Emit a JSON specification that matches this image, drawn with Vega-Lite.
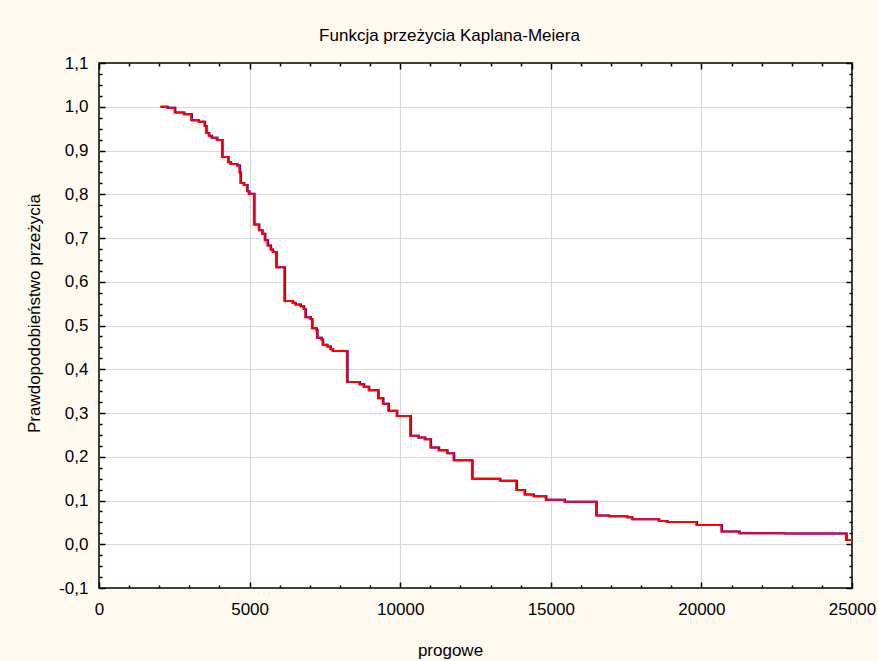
{
  "$schema": "https://vega.github.io/schema/vega-lite/v6.json",
  "autosize": {"type": "none"},
  "width": 753,
  "height": 525,
  "padding": {"left": 99, "top": 63, "right": 26, "bottom": 73},
  "background": "#FFFAF0",
  "config": {
    "font": "Liberation Sans",
    "view": {"fill": "white", "stroke": "black", "strokeWidth": 1.5},
    "axis": {"labelFont": "Liberation Sans", "titleFont": "Liberation Sans", "labelColor": "black", "titleColor": "black", "labelFontSize": 17, "titleFontSize": 17, "titleFontWeight": "normal", "domain": false, "tickColor": "black", "gridColor": "#D9D9D9", "gridWidth": 1.2}
  },
  "title": {"text": "Funkcja przeżycia Kaplana-Meiera", "font": "Liberation Sans", "fontSize": 17, "fontWeight": "normal", "color": "black", "anchor": "middle", "frame": "group", "dx": -26, "offset": -4, "baseline": "alphabetic"},
  "data": {"values": [
    {"t": 2030, "p": 1.0},
    {"t": 2260, "p": 0.998},
    {"t": 2510, "p": 0.987},
    {"t": 2810, "p": 0.983},
    {"t": 3060, "p": 0.969},
    {"t": 3300, "p": 0.966},
    {"t": 3500, "p": 0.956},
    {"t": 3550, "p": 0.94},
    {"t": 3640, "p": 0.934},
    {"t": 3730, "p": 0.929},
    {"t": 3910, "p": 0.924},
    {"t": 4080, "p": 0.885},
    {"t": 4280, "p": 0.873},
    {"t": 4360, "p": 0.869},
    {"t": 4580, "p": 0.866},
    {"t": 4660, "p": 0.85},
    {"t": 4690, "p": 0.826},
    {"t": 4800, "p": 0.821},
    {"t": 4910, "p": 0.807},
    {"t": 4970, "p": 0.801},
    {"t": 5140, "p": 0.731},
    {"t": 5300, "p": 0.718},
    {"t": 5410, "p": 0.71},
    {"t": 5500, "p": 0.695},
    {"t": 5590, "p": 0.683},
    {"t": 5690, "p": 0.674},
    {"t": 5760, "p": 0.668},
    {"t": 5875, "p": 0.633},
    {"t": 6150, "p": 0.556},
    {"t": 6420, "p": 0.552},
    {"t": 6510, "p": 0.548},
    {"t": 6680, "p": 0.544},
    {"t": 6790, "p": 0.538},
    {"t": 6845, "p": 0.519},
    {"t": 7010, "p": 0.515},
    {"t": 7066, "p": 0.494},
    {"t": 7210, "p": 0.49},
    {"t": 7233, "p": 0.472},
    {"t": 7376, "p": 0.468},
    {"t": 7420, "p": 0.456},
    {"t": 7565, "p": 0.452},
    {"t": 7675, "p": 0.446},
    {"t": 7753, "p": 0.442},
    {"t": 8230, "p": 0.371},
    {"t": 8640, "p": 0.366},
    {"t": 8780, "p": 0.36},
    {"t": 8950, "p": 0.352},
    {"t": 9260, "p": 0.334},
    {"t": 9420, "p": 0.321},
    {"t": 9600, "p": 0.305},
    {"t": 9880, "p": 0.293},
    {"t": 10330, "p": 0.248},
    {"t": 10590, "p": 0.244},
    {"t": 10810, "p": 0.24},
    {"t": 11000, "p": 0.221},
    {"t": 11270, "p": 0.215},
    {"t": 11550, "p": 0.208},
    {"t": 11770, "p": 0.192},
    {"t": 12380, "p": 0.15},
    {"t": 13300, "p": 0.145},
    {"t": 13850, "p": 0.124},
    {"t": 14125, "p": 0.114},
    {"t": 14420, "p": 0.11},
    {"t": 14830, "p": 0.102},
    {"t": 15450, "p": 0.097},
    {"t": 16500, "p": 0.066},
    {"t": 16920, "p": 0.064},
    {"t": 17520, "p": 0.062},
    {"t": 17690, "p": 0.057},
    {"t": 18580, "p": 0.053},
    {"t": 18850, "p": 0.051},
    {"t": 19830, "p": 0.044},
    {"t": 20660, "p": 0.029},
    {"t": 21250, "p": 0.025},
    {"t": 22750, "p": 0.0245},
    {"t": 24800, "p": 0.01},
    {"t": 25000, "p": 0.01}
  ]},
  "resolve": {"axis": {"x": "independent", "y": "independent"}},
  "layer": [
    {
      "mark": {"type": "line", "interpolate": "step-after", "color": "#0000FF", "strokeWidth": 2, "xOffset": 0.8, "clip": true},
      "encoding": {
        "x": {"field": "t", "type": "quantitative", "scale": {"domain": [0, 25000], "nice": false, "zero": false},
          "axis": {"orient": "bottom", "title": "progowe", "titlePadding": 22, "titleX": 351,
            "values": [0,1000,2000,3000,4000,5000,6000,7000,8000,9000,10000,11000,12000,13000,14000,15000,16000,17000,18000,19000,20000,21000,22000,23000,24000,25000],
            "labelExpr": "datum.value % 5000 === 0 ? format(datum.value, 'd') : ''",
            "labelPadding": 19, "labelFlush": false, "labelOverlap": false,
            "grid": true, "gridOpacity": {"condition": {"test": "datum.value % 5000 === 0 && datum.value > 0 && datum.value < 25000", "value": 1}, "value": 0},
            "tickSize": {"condition": {"test": "datum.value % 5000 === 0", "value": -6}, "value": -3}, "tickWidth": 1.5}},
        "y": {"field": "p", "type": "quantitative", "scale": {"domain": [-0.1, 1.1], "nice": false, "zero": false},
          "axis": {"orient": "left", "title": "Prawdopodobieństwo przeżycia", "titlePadding": 15, "titleY": 250,
            "values": [-0.1,-0.075,-0.05,-0.025,0,0.025,0.05,0.075,0.1,0.125,0.15,0.175,0.2,0.225,0.25,0.275,0.3,0.325,0.35,0.375,0.4,0.425,0.45,0.475,0.5,0.525,0.55,0.575,0.6,0.625,0.65,0.675,0.7,0.725,0.75,0.775,0.8,0.825,0.85,0.875,0.9,0.925,0.95,0.975,1.0,1.025,1.05,1.075,1.1],
            "labelExpr": "round(datum.value*1000) % 100 == 0 ? replace(replace(format(datum.value, '.1f'), '.', ','), '\u2212', '-') : ''",
            "labelPadding": 17, "labelOverlap": false, "labelFlush": false,
            "grid": true, "gridOpacity": {"condition": {"test": "round(datum.value*1000) % 100 == 0 && datum.value > -0.09 && datum.value < 1.09", "value": 1}, "value": 0},
            "tickSize": {"condition": {"test": "round(datum.value*1000) % 100 == 0", "value": -6}, "value": -3}, "tickWidth": 1.5}}
      }
    },
    {
      "mark": {"type": "line", "interpolate": "step-after", "color": "#FF0000", "strokeWidth": 2, "clip": true},
      "encoding": {
        "x": {"field": "t", "type": "quantitative", "axis": null},
        "y": {"field": "p", "type": "quantitative", "axis": null}
      }
    },
    {
      "mark": {"type": "line", "opacity": 0},
      "encoding": {
        "x": {"field": "t", "type": "quantitative",
          "axis": {"orient": "top", "title": null, "labels": false, "grid": false,
            "values": [0,1000,2000,3000,4000,5000,6000,7000,8000,9000,10000,11000,12000,13000,14000,15000,16000,17000,18000,19000,20000,21000,22000,23000,24000,25000],
            "tickSize": {"condition": {"test": "datum.value % 5000 === 0", "value": -6}, "value": -3}, "tickWidth": 1.5}},
        "y": {"field": "p", "type": "quantitative",
          "axis": {"orient": "right", "title": null, "labels": false, "grid": false,
            "values": [-0.1,-0.075,-0.05,-0.025,0,0.025,0.05,0.075,0.1,0.125,0.15,0.175,0.2,0.225,0.25,0.275,0.3,0.325,0.35,0.375,0.4,0.425,0.45,0.475,0.5,0.525,0.55,0.575,0.6,0.625,0.65,0.675,0.7,0.725,0.75,0.775,0.8,0.825,0.85,0.875,0.9,0.925,0.95,0.975,1.0,1.025,1.05,1.075,1.1],
            "tickSize": {"condition": {"test": "round(datum.value*1000) % 100 == 0", "value": -6}, "value": -3}, "tickWidth": 1.5}}
      }
    }
  ]
}
